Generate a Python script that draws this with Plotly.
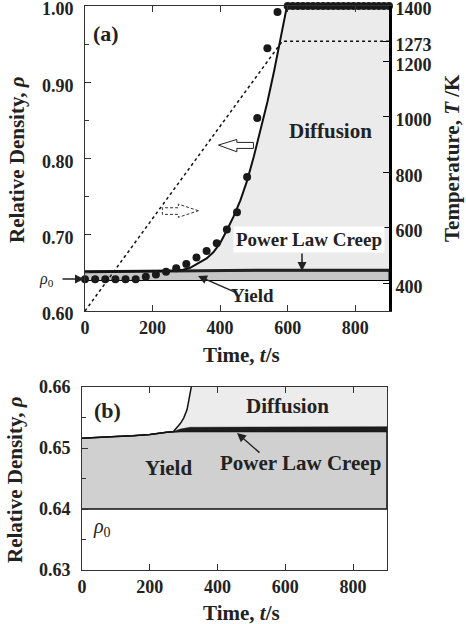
import plotly.graph_objects as go

# ---------------- data ----------------
# model time grid (s)
t_model = [0, 50, 100, 150, 200, 250, 270, 290, 300, 310, 320, 325, 330, 340, 360, 380,
           400, 420, 440, 460, 480, 500, 520, 540, 560, 580, 598, 650, 700, 800, 900]
# upper boundary of yield contribution
yield_top = [0.6516, 0.6518, 0.6519, 0.6520, 0.6522, 0.6526, 0.6527] + [0.6527] * 24
# upper boundary of power-law-creep contribution
plc_top = [0.6516, 0.6518, 0.6519, 0.6520, 0.6522, 0.6526, 0.6527,
           0.6531, 0.6532, 0.6533, 0.6534, 0.6534, 0.6535] + [0.6535] * 18
# total model density (yield + PLC + diffusion)
total_rho = [0.6516, 0.6518, 0.6519, 0.6520, 0.6522, 0.6526, 0.6527,
             0.6540, 0.6549, 0.6563, 0.6588, 0.6600, 0.6615, 0.6640, 0.6690, 0.677,
             0.689, 0.706, 0.724, 0.745, 0.771, 0.803, 0.838, 0.874, 0.915, 0.960,
             1.0, 1.0, 1.0, 1.0, 1.0]
rho0 = 0.64

# experimental points
exp_t = [0, 30, 60, 90, 120, 150, 180, 210, 240, 270, 300, 330, 360, 390, 420, 450,
         480, 510, 540, 570,
         600, 615, 630, 645, 660, 675, 690, 705, 720, 735, 750, 765, 780, 795, 810,
         825, 840, 855, 870, 885, 900]
exp_rho = [0.6415, 0.6415, 0.6415, 0.6415, 0.6415, 0.6415, 0.645, 0.648, 0.6515, 0.656,
           0.6616, 0.670, 0.6786, 0.6887, 0.707, 0.7294, 0.7756, 0.853, 0.9447, 0.992,
           1.0, 1.0, 1.0, 1.0, 1.0, 1.0, 1.0, 1.0, 1.0, 1.0, 1.0, 1.0, 1.0, 1.0, 1.0,
           1.0, 1.0, 1.0, 1.0, 1.0, 1.0]

# temperature schedule
temp_t = [0, 584, 900]
temp_K = [300, 1273, 1273]

x_ticks = [0, 200, 400, 600, 800]
ya_ticks = [0.6, 0.7, 0.8, 0.9, 1.0]
T_ticks = [400, 600, 800, 1000, 1200, 1273, 1400]
yb_ticks = [0.63, 0.64, 0.65, 0.66]

# ---------------- helpers ----------------
W, H = 466, 624
def PX(x):
    return x / W
def PY(y):
    return 1 - y / H

FONT = "Liberation Serif"
AX = "#333333"
tickfont = dict(family=FONT, size=18, color="#222", weight="bold")

rev = lambda a: list(reversed(a))

fig = go.Figure()

# ---------------- panel (a) ----------------
fig.add_trace(go.Scatter(x=t_model + rev(t_model), y=yield_top + [rho0] * len(t_model),
                         fill="toself", fillcolor="#c6c6c6", mode="lines",
                         line=dict(color="black", width=1), xaxis="x", yaxis="y",
                         hoverinfo="skip", showlegend=False))
fig.add_trace(go.Scatter(x=t_model + rev(t_model), y=plc_top + rev(total_rho),
                         fill="toself", fillcolor="#ebebeb", mode="lines",
                         line=dict(width=0), xaxis="x", yaxis="y",
                         hoverinfo="skip", showlegend=False))
fig.add_trace(go.Scatter(x=t_model, y=plc_top, mode="lines",
                         line=dict(color="#222", width=3), xaxis="x", yaxis="y",
                         showlegend=False))
fig.add_trace(go.Scatter(x=t_model, y=total_rho, mode="lines",
                         line=dict(color="#111", width=2), xaxis="x", yaxis="y",
                         showlegend=False))
fig.add_trace(go.Scatter(x=temp_t, y=temp_K, mode="lines",
                         line=dict(color="#111", width=1.5, dash="dot"),
                         xaxis="x", yaxis="y2", showlegend=False))
fig.add_trace(go.Scatter(x=exp_t, y=exp_rho, mode="markers",
                         marker=dict(color="#1a1a1a", size=8),
                         cliponaxis=False, xaxis="x", yaxis="y", showlegend=False))

# ---------------- panel (b) ----------------
fig.add_trace(go.Scatter(x=t_model + rev(t_model), y=yield_top + [rho0] * len(t_model),
                         fill="toself", fillcolor="#d0d0d0", mode="lines",
                         line=dict(color="#111", width=1.5), xaxis="x2", yaxis="y3",
                         hoverinfo="skip", showlegend=False))
fig.add_trace(go.Scatter(x=t_model + rev(t_model), y=plc_top + rev(total_rho),
                         fill="toself", fillcolor="#ececec", mode="lines",
                         line=dict(width=0), xaxis="x2", yaxis="y3",
                         hoverinfo="skip", showlegend=False))
fig.add_trace(go.Scatter(x=t_model + rev(t_model), y=yield_top + rev(plc_top),
                         fill="toself", fillcolor="#1c1c1c", mode="lines",
                         line=dict(color="#1c1c1c", width=0.5), xaxis="x2", yaxis="y3",
                         hoverinfo="skip", showlegend=False))
fig.add_trace(go.Scatter(x=t_model, y=total_rho, mode="lines",
                         line=dict(color="#111", width=1.5), xaxis="x2", yaxis="y3",
                         showlegend=False))

# ---------------- axes ----------------
common_x = dict(range=[0, 900], tickvals=x_ticks, ticks="inside", ticklen=6,
                tickcolor=AX, showline=True, linecolor=AX, linewidth=1,
                mirror="ticks", showgrid=False, zeroline=False, tickfont=tickfont,
                automargin=False, ticklabeloverflow="allow")
fig.update_layout(
    width=W, height=H, margin=dict(l=0, r=0, t=0, b=0, autoexpand=False),
    paper_bgcolor="white", plot_bgcolor="white", showlegend=False,
    xaxis=dict(domain=[PX(85), PX(389)], anchor="y", **common_x),
    yaxis=dict(domain=[PY(311), PY(6)], anchor="x", range=[0.6, 1.0],
               tickvals=ya_ticks, tickformat=".2f", ticks="inside", ticklen=6,
               tickcolor=AX, showline=True, linecolor=AX, linewidth=1,
               minor=dict(ticks="inside", ticklen=4, dtick=0.05, tick0=0.6, tickcolor=AX),
               showgrid=False, zeroline=False, tickfont=tickfont, automargin=False,
               ticklabelstandoff=7, ticklabelshift=3, ticklabeloverflow="allow"),
    yaxis2=dict(overlaying="y", side="right", anchor="x", range=[300, 1400],
                tickvals=T_ticks, ticks="inside", ticklen=6, tickcolor="black",
                showline=True, linecolor="black", linewidth=3, showgrid=False,
                zeroline=False, tickfont=tickfont, automargin=False,
                ticklabelshift=3, ticklabeloverflow="allow"),
    xaxis2=dict(domain=[PX(82), PX(387)], anchor="y3", **common_x),
    yaxis3=dict(domain=[PY(570), PY(387)], anchor="x2", range=[0.63, 0.66],
                tickvals=yb_ticks, tickformat=".2f", ticks="inside", ticklen=6,
                tickcolor=AX, showline=True, linecolor=AX, linewidth=1, mirror=True,
                minor=dict(ticks="inside", ticklen=4, dtick=0.005, tick0=0.63, tickcolor=AX),
                showgrid=False, zeroline=False, tickfont=tickfont, automargin=False,
                ticklabelstandoff=7, ticklabeloverflow="allow"),
)

# ---------------- hollow arrows (panel a) ----------------
def arrow_path(pts):
    return "M " + " L ".join(f"{x},{y}" for x, y in pts) + " Z"

left_arrow = [(395, 0.8176), (449.5, 0.825), (449.5, 0.8211), (498.7, 0.8211),
              (498.7, 0.8132), (449.5, 0.8132), (449.5, 0.8088)]
right_arrow = [(335.7, 0.7315), (276.4, 0.7402), (276.4, 0.7354), (229, 0.7354),
               (229, 0.7267), (276.4, 0.7267), (276.4, 0.7228)]
fig.add_shape(type="path", path=arrow_path(left_arrow), xref="x", yref="y",
              fillcolor="white", line=dict(color="#222", width=1))
fig.add_shape(type="path", path=arrow_path(right_arrow), xref="x", yref="y",
              fillcolor="white", line=dict(color="#333", width=1, dash="3px,2px"))

# ---------------- text ----------------
def text(x, y, s, size=20, bold=True, angle=0, bg=None, yanchor="middle", **kw):
    fig.add_annotation(x=PX(x), y=PY(y), xref="paper", yref="paper", text=s,
                       showarrow=False, textangle=angle, xanchor="center", yanchor=yanchor,
                       font=dict(family=FONT, size=size, color="#222",
                                 weight="bold" if bold else "normal"),
                       bgcolor=bg, **kw)

def arrow(x, y, ax, ay, width=1.5):
    fig.add_annotation(x=PX(x), y=PY(y), xref="paper", yref="paper", text="",
                       showarrow=True, ax=ax, ay=ay, arrowhead=2, arrowsize=1.2,
                       arrowwidth=width, arrowcolor="#222", standoff=0)

# panel labels
text(106, 33, "(a)", size=22)
text(107, 410, "(b)", size=22)

# axis titles
text(17, 160, "Relative Density, <i>ρ</i>", size=21, angle=-90)
text(452, 158, "Temperature, <i>T</i> /K", size=21, angle=-90)
text(242, 355, "Time, <i>t</i>/s", size=21)
text(15, 480, "Relative Density, <i>ρ</i>", size=21, angle=-90)
text(241, 613, "Time, <i>t</i>/s", size=21)

# panel (a) region labels
text(330, 131, "Diffusion", size=21)
text(309, 240, "Power Law Creep", size=19, bg="white", borderpad=2)
arrow(302, 271, 0, -19)
text(252, 295, "Yield", size=19)
arrow(198, 276, 39, 17)
text(46, 279, "<i>ρ</i><sub>0</sub>", size=16, bold=False)
arrow(84, 279, -23, 0)

# panel (b) region labels
text(287, 406, "Diffusion", size=21)
text(300, 463, "Power Law Creep", size=21)
arrow(237, 433, 24, 21)
text(168, 468, "Yield", size=21)
text(102, 527, "<i>ρ</i><sub>0</sub>", size=20, bold=False)

fig.write_html("out.html",
               post_script="document.body.style.margin='0';document.body.style.padding='0';"
                           "document.documentElement.style.overflow='hidden';")
